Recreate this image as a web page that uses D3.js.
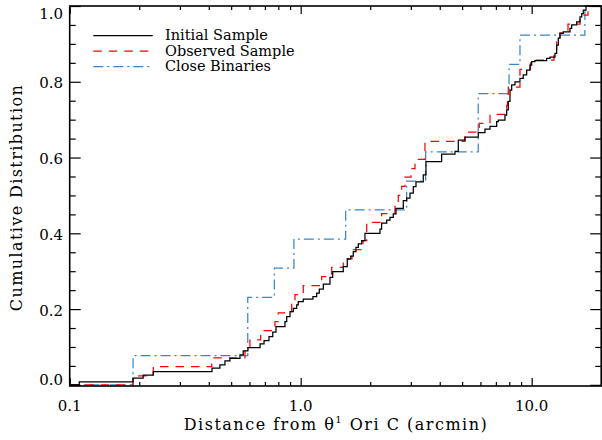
<!DOCTYPE html>
<html><head><meta charset="utf-8">
<script src="https://cdn.jsdelivr.net/npm/d3@7"></script>
<style>body{margin:0;background:#fff} svg{display:block}</style>
</head><body>
<svg id="c" width="602" height="440"></svg>
<script>
// ---- data ----
const initialDist = [0.110,0.188,0.208,0.230,0.413,0.447,0.470,0.494,0.546,0.564,
  0.591,0.667,0.694,0.729,0.757,0.782,0.855,0.870,0.899,0.929,
  0.961,0.976,1.026,1.130,1.173,1.204,1.253,1.339,1.376,1.529,
  1.591,1.646,1.689,1.735,1.776,1.837,1.898,2.204,2.241,2.357,
  2.436,2.517,2.586,2.781,2.877,2.973,3.073,3.156,3.394,3.486,
  4.077,4.656,4.812,5.144,5.873,6.278,6.600,7.055,7.168,7.663,
  7.795,7.920,8.056,8.193,8.467,8.899,9.196,9.514,9.832,10.00,
  10.33,11.61,12.00,12.62,12.83,13.04,13.26,13.71,14.65,14.90,
  15.66,16.19,16.47,16.73,17.19];
const initialFrac = [0.008,0.018,0.026,0.035,0.044,0.053,0.063,0.070,0.079,0.090,
  0.098,0.108,0.117,0.127,0.139,0.154,0.167,0.180,0.193,0.202,
  0.211,0.220,0.226,0.233,0.242,0.253,0.266,0.284,0.299,0.312,
  0.332,0.340,0.352,0.363,0.372,0.381,0.400,0.411,0.427,0.435,
  0.442,0.451,0.466,0.486,0.493,0.506,0.523,0.536,0.554,0.589,
  0.609,0.616,0.646,0.654,0.666,0.675,0.682,0.695,0.699,0.712,
  0.726,0.748,0.778,0.792,0.800,0.809,0.818,0.831,0.844,0.853,
  0.856,0.862,0.865,0.875,0.897,0.915,0.928,0.932,0.941,0.950,
  0.958,0.971,0.980,0.989,1.000];

const observedDist = [0.188,0.230,0.412,0.574,0.603,0.671,0.774,0.800,0.914,0.945,
  1.026,1.233,1.362,1.529,1.668,1.861,1.931,2.241,2.560,2.646,
  2.737,2.829,3.003,3.125,3.452,5.144,5.932,6.600,7.795,7.857,
  7.920,8.899,9.881,12.49,12.83,13.26,14.36,16.19,17.53];
const observedFrac = [0.024,0.048,0.071,0.095,0.119,0.143,0.167,0.190,0.214,0.238,
  0.262,0.286,0.310,0.333,0.357,0.381,0.429,0.452,0.476,0.500,
  0.524,0.548,0.571,0.595,0.643,0.667,0.690,0.714,0.738,0.762,
  0.786,0.833,0.857,0.881,0.905,0.929,0.952,0.976,1.000];

const binaryDist = [0.188,0.590,0.769,0.935,1.566,2.876,3.476,5.870,7.980,8.900,17.00];
const binaryFrac = [0.077,0.231,0.308,0.385,0.462,0.538,0.615,0.769,0.846,0.923,1.000];

const seriesNames = ["Initial Sample","Observed Sample","Close Binaries"];

const xMajorTicks = [0.1,1,10];
const xMajorLabels = ["0.1","1.0","10.0"];
const xMinorTicks = [0.2,0.3,0.4,0.5,0.6,0.7,0.8,0.9,2,3,4,5,6,7,8,9];
const yMajorTicks = [0,0.2,0.4,0.6,0.8,1.0];
const yMajorLabels = ["0.0","0.2","0.4","0.6","0.8","1.0"];
const yMinorTicks = [0.05,0.1,0.15,0.25,0.3,0.35,0.45,0.5,0.55,0.65,0.7,0.75,0.85,0.9,0.95];
const xDomain = [0.1,20];
const yDomain = [-0.003,1];

// ---- layout ----
const W=602,H=440;
const L=69.7,R=601.2,T=6,B=386;
const FONT = "'DejaVu Serif', serif";
const x = d3.scaleLog().domain(xDomain).range([L,R]);
const y = d3.scaleLinear().domain(yDomain).range([B,T]);
const svg = d3.select('#c');
svg.append('rect').attr('width',W).attr('height',H).attr('fill','#fff');

svg.append('defs').append('clipPath').attr('id','pc')
  .append('rect').attr('x',L).attr('y',T-1).attr('width',R-L).attr('height',B-T+2);

function stepPts(d,f){ const pts=[[xDomain[0],0]]; d.forEach((v,i)=>pts.push([v,f[i]])); pts.push([xDomain[1],1]); return pts; }
const line = d3.line().x(p=>x(p[0])).y(p=>y(p[1])).curve(d3.curveStepAfter);

const styles = [
  {color:'#000000', dash:null, w:1.25},
  {color:'#ff0000', dash:'8.5,7', w:1.25},
  {color:'#3a85c8', dash:'10,4,2,4', w:1.25}
];
const plot = svg.append('g').attr('clip-path','url(#pc)');
const series = [
  [binaryDist,binaryFrac,2],
  [observedDist,observedFrac,1],
  [initialDist,initialFrac,0]
];
series.forEach(([d,f,si])=>{
  const s=styles[si];
  plot.append('path').attr('d',line(stepPts(d,f)))
    .attr('fill','none').attr('stroke',s.color).attr('stroke-width',s.w)
    .attr('stroke-dasharray',s.dash);
});

// ---- axes ----
function ax(gen, tr, vals, size){
  const g = svg.append('g').attr('transform',tr)
    .call(gen.tickValues(vals).tickSize(size).tickSizeOuter(0).tickFormat(''));
  g.select('.domain').remove();
  g.selectAll('line').attr('stroke','#000').attr('stroke-width',1.2);
}
ax(d3.axisBottom(x), `translate(0,${B})`, xMajorTicks, -8);
ax(d3.axisBottom(x), `translate(0,${B})`, xMinorTicks, -4);
ax(d3.axisTop(x), `translate(0,${T})`, xMajorTicks, -8);
ax(d3.axisTop(x), `translate(0,${T})`, xMinorTicks, -4);
ax(d3.axisLeft(y), `translate(${L},0)`, yMajorTicks, -11);
ax(d3.axisLeft(y), `translate(${L},0)`, yMinorTicks, -6);
ax(d3.axisRight(y), `translate(${R},0)`, yMajorTicks, -11);
ax(d3.axisRight(y), `translate(${R},0)`, yMinorTicks, -6);

svg.append('rect').attr('x',L).attr('y',T).attr('width',R-L).attr('height',B-T)
  .attr('fill','none').attr('stroke','#000').attr('stroke-width',1.6);

// tick labels
svg.append('g').selectAll('text').data(xMajorTicks).join('text')
  .attr('x',d=>x(d)).attr('y',410.5).attr('text-anchor','middle')
  .attr('font-family',FONT).attr('font-size',15).attr('fill','#000')
  .text((d,i)=>xMajorLabels[i]);
svg.append('g').selectAll('text').data(yMajorTicks).join('text')
  .attr('x',63).attr('y',d=>Math.max(14,Math.min(380,y(d)+1.3))).attr('dy','0.36em')
  .attr('text-anchor','end')
  .attr('font-family',FONT).attr('font-size',15).attr('fill','#000')
  .text((d,i)=>yMajorLabels[i]);

// axis titles
const xt = svg.append('text').attr('x',336).attr('y',430).attr('text-anchor','middle')
  .attr('font-family',FONT).attr('font-size',16).attr('letter-spacing',1.5).attr('fill','#000');
xt.append('tspan').text('Distance from θ');
xt.append('tspan').attr('font-size',10).attr('dy',-7).text('1');
xt.append('tspan').attr('dy',7).text(' Ori C (arcmin)');

svg.append('text').attr('transform','translate(21.5,197.5) rotate(-90)')
  .attr('text-anchor','middle').attr('font-family',FONT).attr('font-size',16)
  .attr('letter-spacing',1.4).attr('fill','#000').text('Cumulative Distribution');

// legend
const leg = svg.append('g');
[0,1,2].forEach(i=>{
  const ly = 35.5 + i*15.5;
  const s = styles[i];
  leg.append('line').attr('x1',93.3).attr('x2',152.7).attr('y1',ly).attr('y2',ly)
    .attr('stroke',s.color).attr('stroke-width',s.w).attr('stroke-dasharray',s.dash);
  leg.append('text').attr('x',165).attr('y',ly+4.5)
    .attr('font-family',FONT).attr('font-size',14.5).attr('fill','#000').text(seriesNames[i]);
});
</script>
</body></html>
